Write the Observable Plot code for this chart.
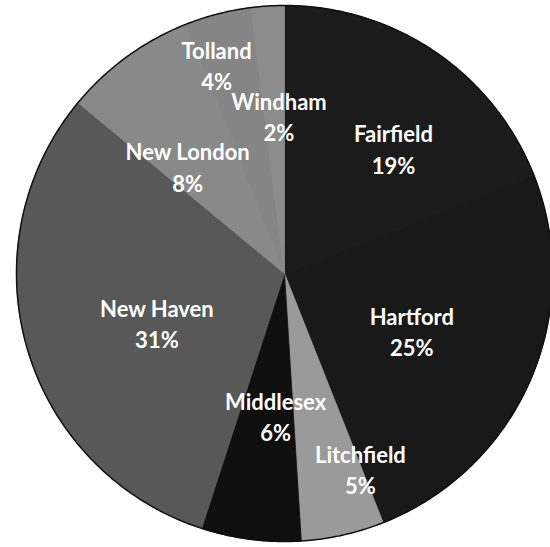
<!DOCTYPE html>
<html><head><meta charset="utf-8">
<script src="https://cdn.jsdelivr.net/npm/d3@7"></script>
<script src="https://cdn.jsdelivr.net/npm/@observablehq/plot@0.6"></script>
<style>html,body{margin:0;padding:0;background:#fff;overflow:hidden}</style>
</head><body><div id="chart"></div>
<script>
// Data
const counties = ["Fairfield","Hartford","Litchfield","Middlesex","New Haven","New London","Tolland","Windham"];
const shares = [19, 25, 5, 6, 31, 8, 4, 2];
// Styles
const fills = ["#1b1b1b","#191919","#9a9a9a","#0f0f0f","#585858","#898989","#858585","#8c8c8c"];
// Label placement (degrees clockwise from 12 o'clock, fraction of radius)
const labelAngle = [41, 114, 158.7, 183.6, 249, 318, 342, 358];
const labelRadius = [0.62, 0.52, 0.78, 0.53, 0.51, 0.54, 0.82, 0.59];

const W = 550, H = 547, CX = 284, CY = 273, R = 268;
const total = d3.sum(shares);
let acc = 0;
const slices = counties.map((name, i) => {
  const a0 = acc / total * 2 * Math.PI; acc += shares[i];
  const a1 = acc / total * 2 * Math.PI;
  return {name, value: shares[i], a0, a1, fill: fills[i], i};
});
function wedge(s) {
  const pts = [{x: 0, y: 0}];
  const n = Math.max(4, Math.ceil((s.a1 - s.a0) / (Math.PI / 360)));
  for (let k = 0; k <= n; k++) {
    const a = s.a0 + (s.a1 - s.a0) * k / n;
    pts.push({x: Math.sin(a), y: -Math.cos(a)});
  }
  pts.push({x: 0, y: 0});
  return pts;
}
const ring = d3.range(0, 721).map(k => ({x: Math.sin(k / 720 * 2 * Math.PI), y: -Math.cos(k / 720 * 2 * Math.PI)}));

const marks = [
  ...slices.map(s => Plot.line(wedge(s), {x: "x", y: "y", fill: s.fill, stroke: s.fill, strokeWidth: 0.8, curve: "linear"})),
  Plot.line(ring, {x: "x", y: "y", stroke: "#111", strokeWidth: 1.5, fill: "none"}),
  Plot.text(slices, {
    x: d => labelRadius[d.i] * Math.sin(labelAngle[d.i] * Math.PI / 180),
    y: d => -labelRadius[d.i] * Math.cos(labelAngle[d.i] * Math.PI / 180),
    text: d => `${d.name}\n${d.value}%`,
    fill: "white", fontSize: 22, fontWeight: "bold", fontFamily: "Lato", lineHeight: 1.42
  })
];

const chart = Plot.plot({
  width: W, height: H, margin: 0,
  x: {domain: [-CX / R, (W - CX) / R], range: [0, W], axis: null},
  y: {domain: [-CY / R, (H - CY) / R], range: [0, H], axis: null},
  style: {background: "white"},
  marks
});
document.getElementById("chart").append(chart);
</script>
</body></html>
